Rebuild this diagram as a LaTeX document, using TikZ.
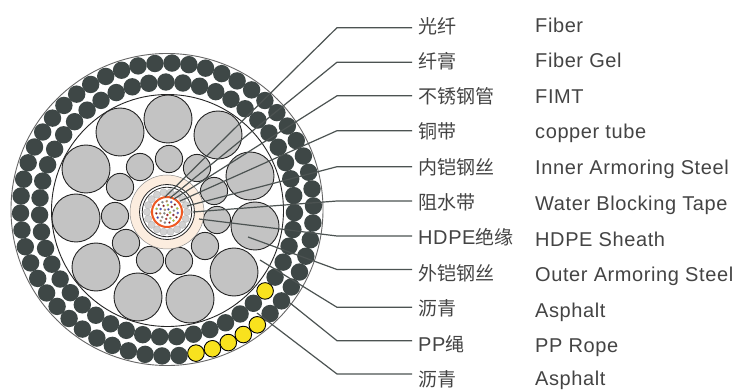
\documentclass[tikz,border=0pt]{standalone}
\usepackage{fontspec}
\usetikzlibrary{calc}
\setmainfont{Liberation Sans}
\newfontfamily\enfam[LetterSpace=3]{Liberation Sans}
\newfontfamily\cjkfont{Noto Sans CJK SC}
\newcommand\latinbit[1]{{\enfam\fontsize{20}{22}\selectfont #1}}
\definecolor{beadc}{HTML}{3E4746}
\definecolor{wirec}{HTML}{C3C3C3}
\definecolor{leadc}{HTML}{4C5352}
\definecolor{creamc}{HTML}{FCEDDF}
\definecolor{orangec}{HTML}{EE5A24}
\definecolor{yellowc}{HTML}{F8E21E}
\definecolor{textc}{HTML}{444444}
\definecolor{beadg}{HTML}{D2D2D2}
\tikzset{
  bead/.style={fill=beadc},
  yellowbead/.style={fill=yellowc,draw=black,line width=0.9pt},
  wire/.style={fill=wirec,draw=black!85,line width=0.9pt},
  lead/.style={draw=leadc,line width=1.2pt},
  cnlabel/.style={anchor=base west,inner sep=0pt,text=textc,font=\cjkfont\fontsize{19}{21}\selectfont},
  enlabel/.style={anchor=base west,inner sep=0pt,text=textc,font=\enfam\fontsize{20}{22}\selectfont},
}
\begin{document}
\begin{tikzpicture}[x=1pt,y=-1pt]
\useasboundingbox (0,0) rectangle (734,390);
\fill[white] (0,0) rectangle (734,390);
% outer jacket
\draw[draw=black!60,line width=0.9pt,fill=white] (167,209.5) circle[radius=156];
% outer armour
\foreach \k in {0,...,53}{
  \pgfmathsetmacro\a{-78.6+\k*6.66667}
  \ifnum\k<5
    \draw[yellowbead] ($(167,209.5)+(\a:146.5 and -146.5)$) circle[radius=8.3];
  \else
    \fill[bead] ($(167,209.5)+(\a:146.5 and -146.5)$) circle[radius=8.7];
  \fi
}
% inner armour
\foreach \k in {0,...,46}{
  \pgfmathsetmacro\a{-39.7+\k*7.65957}
  \ifnum\k=0
    \draw[yellowbead] ($(167,209.5)+(\a:127.5 and -127.5)$) circle[radius=8.3];
  \else
    \fill[bead] ($(167,209.5)+(\a:127.5 and -127.5)$) circle[radius=8.7];
  \fi
}
% sheath
\draw[draw=black!85,line width=0.9pt,fill=white] (167.5,210.5) circle[radius=116];
% large wires
\foreach \x/\y in {120/132,168/119,218/135,250/176,255/226,234/272,190/299,138/297,96/267,76/218,86/169}
  \draw[wire] (\x,\y) circle[radius=24];
% small wires
\foreach \x/\y in {140/167,120/187,169/159,115/216,126/243,150/260,205/246,179/261,217/220,214/191,197/168}
  \draw[wire] (\x,\y) circle[radius=13.6];
% core
\draw[fill=creamc,draw=black!45,line width=0.5pt] (167,212) circle[radius=37];
\draw[fill=white,draw=black!85,line width=0.8pt] (167,212) circle[radius=27.5];
\draw[fill=white,draw=black!85,line width=0.8pt] (167,212) circle[radius=24.8];
\foreach \k in {0,...,17}
  \draw[fill=beadg,draw=black!30,line width=0.3pt] ($(167,212)+(\k*20:20)$) circle[radius=3.6];
\draw[fill=white,draw=orangec,line width=2pt] (167,212) circle[radius=15];
\foreach \rr/\n/\p in {3/5/10,7/10/25,10.8/15/5}{
  \pgfmathtruncatemacro\m{\n-1}
  \foreach \k in {0,...,\m}{
    \pgfmathsetmacro\a{\p+\k*360/\n}
    \pgfmathtruncatemacro\c{mod(\k*7+\n,6)}
    \ifcase\c\def\fc{red!70!black}\or\def\fc{gray}\or\def\fc{brown}\or\def\fc{blue!60!gray}\or\def\fc{red!60!black}\or\def\fc{yellow!70!green}\fi
    \draw[fill=\fc,draw=black!40,line width=0.2pt] ($(167,212)+(\a:\rr)$) circle[radius=1.2];
  }
}
% labels
\foreach \i/\yb/\t in {1/33.5/光纤,2/68.5/纤膏,3/103.5/不锈钢管,4/139/铜带,5/175/内铠钢丝,6/210/阻水带,7/245/\latinbit{HDPE}绝缘,8/280.5/外铠钢丝,9/315.5/沥青,10/351/\latinbit{PP}绳,11/386/沥青}
  \node[cnlabel] (cn\i) at (418,\yb) {\t};
\foreach \i/\yb/\t in {1/32.3/Fiber,2/68/Fiber Gel,3/103.3/FIMT,4/139/copper tube,5/175/Inner Armoring Steel,6/210.3/Water Blocking Tape,7/246.3/HDPE Sheath,8/281.7/Outer Armoring Steel,9/317.5/Asphalt,10/352.5/PP Rope,11/385.4/Asphalt}
  \node[enlabel] (en\i) at (535,\yb) {\t};
% leaders
\foreach \i/\ye/\xs/\ys in {1/27.7/165/197,2/62.2/170/198,3/95.8/174/199,4/130.7/180/201,5/166.7/187/206,6/201/193/212,7/236/199/219,8/269.5/248/237,9/307.3/260/260,10/340.7/290/303,11/374/257/313}{
  \coordinate (s\i) at (\xs,\ys);
  \coordinate (k\i) at (337,\ye);
  \coordinate (t\i) at (412,\ye);
  \draw[lead] (s\i) -- (k\i) -- (t\i);
}
\end{tikzpicture}
\end{document}
